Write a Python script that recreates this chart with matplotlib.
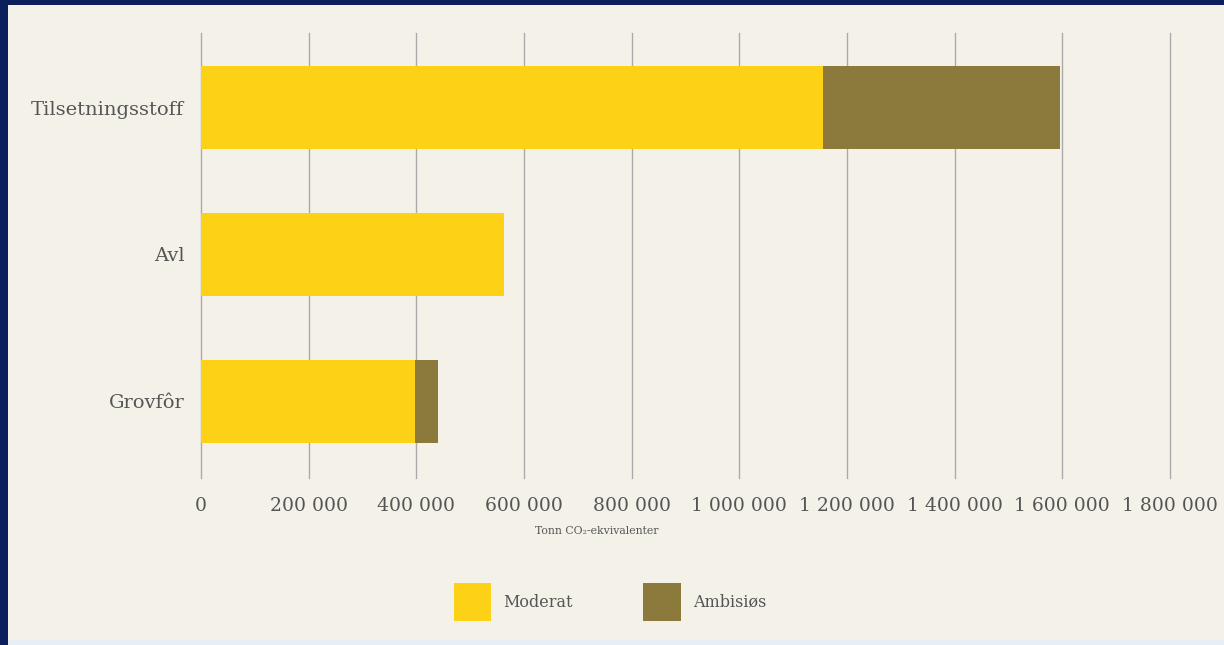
import matplotlib.pyplot as plt
from matplotlib.patches import Rectangle, Patch
from matplotlib.ticker import FuncFormatter

categories = ["Grovfôr", "Avl", "Tilsetningsstoff"]
moderat = [397000, 562000, 1156000]
ambisios = [44000, 0, 440000]
xticks = [0, 200000, 400000, 600000, 800000, 1000000, 1200000, 1400000, 1600000, 1800000]

yellow = "#FCD116"
brown = "#8C7A3C"
bg = "#F4F2E8"
navy = "#0B1F5C"
txt = "#555555"

plt.rcParams["font.family"] = ["DejaVu Serif"]

fig = plt.figure(figsize=(12.24, 6.45), dpi=100)
fig.patch.set_facecolor(navy)
fig.patches.append(Rectangle((8 / 1224, 0), 1, 1 - 5 / 645, transform=fig.transFigure,
                             facecolor="#E8EEF6", edgecolor="none", zorder=-2))
fig.patches.append(Rectangle((8 / 1224, 5 / 645), 1, 1 - 10 / 645, transform=fig.transFigure,
                             facecolor=bg, edgecolor="none", zorder=-1))

ax = fig.add_axes([201 / 1224, 167 / 645, 969 / 1224, 445 / 645])
ax.set_facecolor("none")

y = range(len(categories))
ax.barh(y, moderat, height=0.565, color=yellow, label="Moderat", zorder=2)
ax.barh(y, ambisios, left=moderat, height=0.565, color=brown, label="Ambisiøs", zorder=2)

ax.set_xlim(0, 1800000)
ax.set_ylim(-0.524, 2.51)
ax.set_xticks(xticks)
ax.xaxis.set_major_formatter(FuncFormatter(lambda v, p: f"{int(v):,}".replace(",", " ")))
ax.set_yticks(list(y))
ax.set_yticklabels(categories)
ax.tick_params(axis="x", length=0, pad=14, labelsize=13.5, colors=txt)
ax.tick_params(axis="y", length=0, pad=12, labelsize=14, colors=txt)
ax.grid(axis="x", color="#AAAAAA", linewidth=1, zorder=1)
ax.set_axisbelow(True)
for gl in ax.get_xgridlines():
    gl.set_clip_on(False)
for s in ax.spines.values():
    s.set_visible(False)

fig.text(597 / 1224, 1 - 531 / 645, "Tonn CO₂-ekvivalenter", ha="center", va="center",
         fontsize=7.8, color=txt)

handles = [Patch(facecolor=yellow, label="Moderat"), Patch(facecolor=brown, label="Ambisiøs")]
fig.legend(handles=handles, loc="center", bbox_to_anchor=(610 / 1224, 1 - 602 / 645),
           ncol=2, frameon=False, fontsize=11.5, handlelength=2.35, handleheight=3.2,
           columnspacing=4.4, handletextpad=0.75, labelcolor=txt)

fig.savefig("out.png", dpi=100, facecolor=fig.get_facecolor())
